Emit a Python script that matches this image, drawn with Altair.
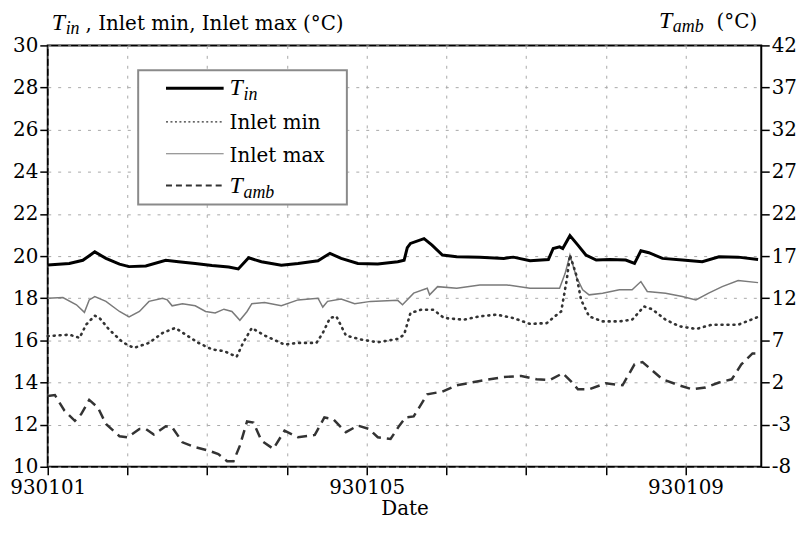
import altair as alt
import pandas as pd

# ---------------- data (days since 930101 00:00) ----------------
tin_day = [0.00, 0.27, 0.44, 0.59, 0.73, 0.90, 1.02, 1.23, 1.48, 1.64, 1.85, 2.06, 2.27, 2.39,
           2.52, 2.68, 2.93, 3.14, 3.39, 3.54, 3.68, 3.89, 4.14, 4.39, 4.47, 4.51, 4.55, 4.72,
           4.82, 4.95, 5.13, 5.42, 5.72, 5.84, 6.05, 6.28, 6.34, 6.42, 6.46, 6.55, 6.65, 6.75,
           6.88, 7.05, 7.25, 7.36, 7.44, 7.54, 7.71, 7.96, 8.21, 8.42, 8.66, 8.91]
tin_val = [19.58, 19.65, 19.80, 20.20, 19.89, 19.62, 19.50, 19.53, 19.80, 19.73, 19.65, 19.55, 19.48, 19.39,
           19.92, 19.73, 19.57, 19.65, 19.78, 20.13, 19.89, 19.65, 19.62, 19.73, 19.80, 20.40, 20.60, 20.83,
           20.52, 20.05, 19.97, 19.94, 19.89, 19.95, 19.78, 19.84, 20.36, 20.44, 20.36, 20.97, 20.52, 20.05,
           19.81, 19.84, 19.81, 19.65, 20.25, 20.16, 19.89, 19.81, 19.73, 19.97, 19.95, 19.84]

max_day = [0.00, 0.19, 0.36, 0.46, 0.52, 0.59, 0.73, 0.90, 1.02, 1.15, 1.27, 1.44, 1.50, 1.56, 1.69,
           1.85, 1.98, 2.10, 2.21, 2.31, 2.41, 2.50, 2.56, 2.72, 2.93, 3.14, 3.39, 3.45, 3.51, 3.68,
           3.85, 4.05, 4.39, 4.45, 4.59, 4.76, 4.79, 4.89, 5.13, 5.42, 5.76, 6.05, 6.42, 6.49, 6.55,
           6.63, 6.71, 6.79, 6.96, 7.17, 7.33, 7.44, 7.52, 7.75, 7.96, 8.13, 8.29, 8.46, 8.66, 8.91]
max_val = [18.00, 18.03, 17.69, 17.33, 17.92, 18.08, 17.85, 17.37, 17.11, 17.37, 17.85, 18.00, 17.92, 17.64, 17.74,
           17.64, 17.37, 17.30, 17.48, 17.37, 16.95, 17.37, 17.74, 17.80, 17.64, 17.92, 18.00, 17.58, 17.85, 17.96,
           17.74, 17.85, 17.90, 17.69, 18.24, 18.47, 18.16, 18.55, 18.47, 18.63, 18.63, 18.47, 18.47, 19.18, 20.05,
           19.02, 18.40, 18.16, 18.24, 18.40, 18.40, 18.79, 18.32, 18.24, 18.08, 17.92, 18.24, 18.55, 18.84, 18.74]

min_day = [0.00, 0.27, 0.40, 0.48, 0.59, 0.65, 0.77, 0.94, 1.08, 1.27, 1.44, 1.60, 1.73, 1.89, 2.06,
           2.21, 2.37, 2.45, 2.56, 2.72, 2.97, 3.14, 3.37, 3.45, 3.54, 3.62, 3.74, 3.93, 4.14, 4.39,
           4.47, 4.55, 4.68, 4.84, 4.97, 5.22, 5.42, 5.63, 5.84, 6.05, 6.26, 6.36, 6.44, 6.51, 6.55,
           6.63, 6.69, 6.79, 6.96, 7.17, 7.33, 7.48, 7.58, 7.75, 7.92, 8.13, 8.33, 8.50, 8.66, 8.91]
min_val = [16.20, 16.27, 16.12, 16.74, 17.17, 17.06, 16.51, 15.91, 15.64, 15.88, 16.35, 16.59, 16.27, 15.88, 15.57,
           15.49, 15.22, 15.88, 16.59, 16.23, 15.80, 15.88, 15.88, 16.35, 17.06, 17.14, 16.23, 16.04, 15.91, 16.07,
           16.27, 17.30, 17.45, 17.45, 17.06, 16.98, 17.14, 17.22, 17.06, 16.78, 16.82, 17.14, 17.37, 18.87, 20.05,
           19.10, 17.92, 17.14, 16.90, 16.90, 16.98, 17.61, 17.48, 16.98, 16.67, 16.54, 16.74, 16.74, 16.74, 17.11]

amb_day = [0.00, 0.09, 0.21, 0.34, 0.42, 0.52, 0.63, 0.73, 0.90, 1.00, 1.15, 1.23, 1.33, 1.48, 1.56,
           1.69, 1.85, 2.02, 2.14, 2.25, 2.33, 2.41, 2.50, 2.58, 2.68, 2.83, 2.97, 3.14, 3.35, 3.47,
           3.58, 3.74, 3.89, 4.03, 4.14, 4.30, 4.41, 4.49, 4.59, 4.76, 4.95, 5.13, 5.42, 5.72, 5.94,
           6.13, 6.30, 6.46, 6.57, 6.65, 6.79, 7.00, 7.21, 7.36, 7.46, 7.71, 7.92, 8.08, 8.25, 8.42,
           8.58, 8.70, 8.84, 8.91]
amb_val = [0.4, 0.5, -1.35, -2.55, -1.75, -0.07, -0.98, -2.93, -4.38, -4.5, -3.52, -3.52, -4.18, -3.2, -3.3,
           -5.1, -5.68, -6.08, -6.5, -7.35, -7.35, -5.5, -2.62, -2.75, -4.9, -5.88, -3.72, -4.5, -4.22, -2.15,
           -2.35, -3.9, -3.12, -3.52, -4.5, -4.7, -3.12, -2.15, -2.03, 0.6, 0.92, 1.67, 2.18, 2.65, 2.78,
           2.38, 2.3, 3.1, 2.08, 1.2, 1.2, 1.9, 1.67, 4.15, 4.43, 2.38, 1.67, 1.2, 1.4, 2.0,
           2.38, 4.15, 5.45, 5.45]

x_tick_days = list(range(0, 9))
x_tick_labels = {0: "930101", 4: "930105", 8: "930109"}
left_ticks = list(range(10, 31, 2))
right_ticks = list(range(-8, 43, 5))

# ---------------- styling ----------------
FONT = "DejaVu Serif"
IFONT = "Liberation Serif"
FS = 20
TS, SS = 24, 18
W, H = 718, 424
GRID = "#a8a8a8"

xscale = alt.Scale(domain=[0, 8.95], nice=False, zero=False)
yl = alt.Scale(domain=[10, 30], nice=False, zero=False)
yr = alt.Scale(domain=[-8, 42], nice=False, zero=False)

label_expr = " : ".join(f"datum.value == {k} ? '{v}'" for k, v in x_tick_labels.items()) + " : ''"

x_axis = alt.Axis(values=x_tick_days, labelExpr=label_expr, title="Date", grid=True,
                  gridColor=GRID, gridDash=[3, 7], gridWidth=1, tickSize=8, tickColor="black",
                  tickWidth=1.5, domain=False, labelFont=FONT, labelFontSize=FS, titleFont=FONT,
                  titleFontSize=FS, titleFontWeight="normal", labelColor="black", titleColor="black",
                  labelPadding=3, titlePadding=1, labelOverlap=False, labelFlush=False)
yl_axis = alt.Axis(values=left_ticks, orient="left", grid=True, gridColor=GRID, gridDash=[3, 7],
                   gridWidth=1, tickSize=8, tickColor="black", tickWidth=1.5, domain=False,
                   labelFont=FONT, labelFontSize=FS, labelColor="black", labelPadding=2, title=None,
                   labelOverlap=False, labelFlush=False)
yr_axis = alt.Axis(values=right_ticks, orient="right", grid=False, tickSize=8, tickColor="black",
                   tickWidth=1.5, domain=False, labelFont=FONT, labelFontSize=FS, labelColor="black",
                   labelPadding=2, title=None, labelOverlap=False, labelFlush=False,
                   labelExpr="'' + datum.value")


def line(day, val, yscale, yaxis, **mark):
    df = pd.DataFrame({"day": day, "val": val})
    return alt.Chart(df).mark_line(**mark).encode(
        x=alt.X("day:Q", scale=xscale, axis=x_axis),
        y=alt.Y("val:Q", scale=yscale, axis=yaxis),
    )


tmax = line(max_day, max_val, yl, yl_axis, color="#7a7a7a", strokeWidth=1.5)
tmin = line(min_day, min_val, yl, yl_axis, color="#333333", strokeWidth=2.6, strokeDash=[1, 5], strokeCap="round")
tin = line(tin_day, tin_val, yl, yl_axis, color="black", strokeWidth=3)
left_group = alt.layer(tmax, tmin, tin)

amb = line(amb_day, amb_val, yr, yr_axis, color="#333333", strokeWidth=2.5, strokeDash=[10, 6])

# ---------------- legend and axis titles (decoration) ----------------
one = pd.DataFrame({"k": [0]})
base = alt.Chart(one)

box = base.mark_rect(fill="white", stroke="#8a8a8a", strokeWidth=2).encode(
    x=alt.value(91), x2=alt.value(301), y=alt.value(25), y2=alt.value(160))

leg_tin = base.mark_rule(color="black", strokeWidth=3).encode(
    x=alt.value(119), x2=alt.value(177), y=alt.value(43))
leg_min = base.mark_rule(color="#333333", strokeWidth=1.3, strokeDash=[2, 2.5]).encode(
    x=alt.value(119), x2=alt.value(177), y=alt.value(77))
leg_max = base.mark_rule(color="#7a7a7a", strokeWidth=1.2).encode(
    x=alt.value(119), x2=alt.value(177), y=alt.value(109))
leg_amb = base.mark_rule(color="#333333", strokeWidth=2, strokeDash=[6, 4]).encode(
    x=alt.value(119), x2=alt.value(177), y=alt.value(141))


def txt(s, x, y, size=FS, italic=False):
    return base.mark_text(text=s, font=IFONT if italic else FONT, fontSize=size,
                          fontStyle="italic" if italic else "normal",
                          align="left", baseline="alphabetic", color="black").encode(
        x=alt.value(x), y=alt.value(y))


texts = [
    txt("T", 183, 50, TS, True), txt("in", 197, 55, SS, True),
    txt("Inlet min", 183, 84),
    txt("Inlet max", 183, 117),
    txt("T", 183, 149, TS, True), txt("amb", 197, 154, SS, True),
    # left title
    txt("T", 4, -16, TS, True), txt("in", 18, -11, SS, True),
    txt(", Inlet min, Inlet max (°C)", 38, -16),
    # right title
    txt("T", 615, -18, TS, True), txt("amb", 629, -13, SS, True),
    txt("(°C)", 673, -18),
]

deco = alt.layer(box, leg_tin, leg_min, leg_max, leg_amb, *texts)

chart = alt.layer(amb, left_group, deco).resolve_scale(y="independent").properties(
    width=W, height=H,
    autosize=alt.AutoSizeParams(type="none"),
    padding={"left": 40, "top": 36, "right": 42, "bottom": 64},
    background="white",
).configure_view(stroke="black", strokeWidth=2)

chart.save("out.html", embed_options={"renderer": "svg", "actions": False})
